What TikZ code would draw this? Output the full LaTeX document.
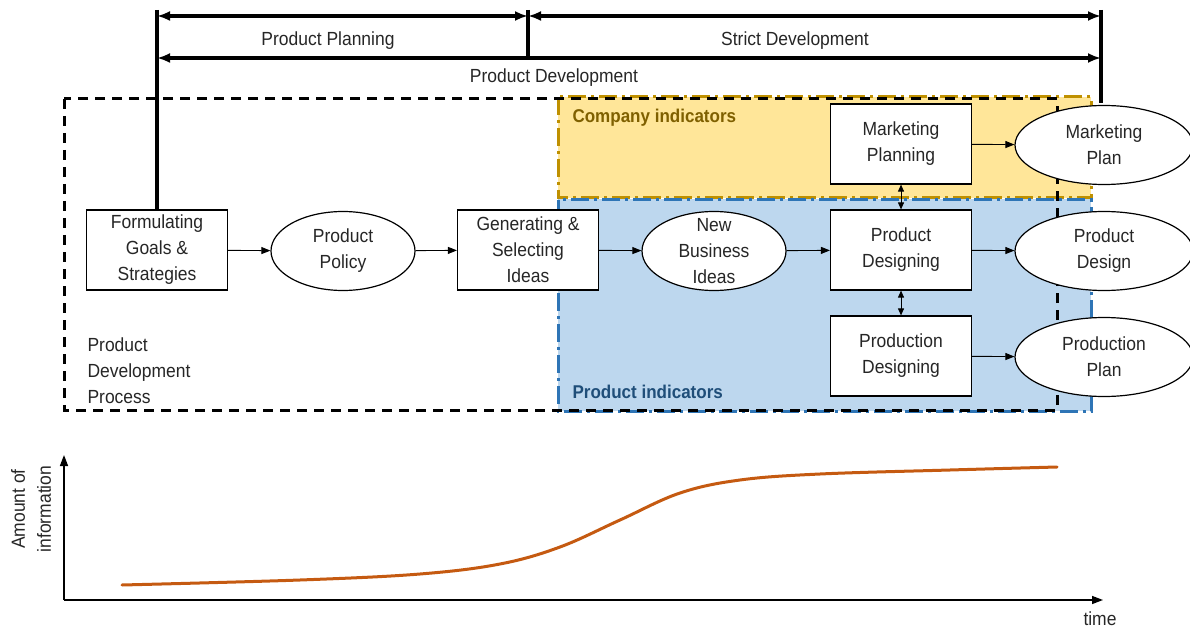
\documentclass[tikz,border=0pt]{standalone}
\usepackage{fontspec}
\setmainfont[FakeStretch=0.92]{Liberation Sans}
\usetikzlibrary{arrows.meta,shapes.geometric}
\definecolor{yfill}{HTML}{FFE699}
\definecolor{ydraw}{HTML}{BF9000}
\definecolor{ytext}{HTML}{7F6000}
\definecolor{bfill}{HTML}{BDD7EE}
\definecolor{bdraw}{HTML}{2E75B6}
\definecolor{btext}{HTML}{1F4E79}
\definecolor{curvecol}{HTML}{C55A11}
\begin{document}
\begin{tikzpicture}[x=1pt,y=-1pt,
  every node/.style={font=\fontsize{19}{26}\selectfont, text=black!85},
  box/.style={draw, line width=1.2pt, fill=white, minimum width=141pt, minimum height=80pt, align=center, inner sep=0pt},
  oval/.style={draw, ellipse, line width=1.2pt, fill=white, minimum width=144pt, minimum height=79pt, align=center, inner sep=0pt},
  conn/.style={line width=0.9pt, -{Triangle[length=9pt,width=7pt]}},
  dconn/.style={line width=0.9pt, {Triangle[length=7pt,width=6pt]}-{Triangle[length=7pt,width=6pt]}},
  spanarrow/.style={line width=3.2pt, {Latex[length=13pt,width=10pt]}-{Latex[length=13pt,width=10pt]}},
  bar/.style={line width=3.2pt},
  indborder/.style={line width=3pt, dash pattern=on 18pt off 5pt on 3pt off 5pt},
]
\useasboundingbox (0,0) rectangle (1190,628);

% indicator areas
\path[fill=yfill] (558,97) rectangle (1091,198);
\path[fill=bfill] (558,199) rectangle (1091,411);
\draw[indborder, draw=ydraw] (558,97) rectangle (1091,198);
\draw[indborder, draw=bdraw] (558,200) rectangle (1091,411);
\node[anchor=west, font=\fontsize{18.5}{26}\selectfont\bfseries, text=ytext] (cind) at (569,118) {Company indicators};
\node[anchor=west, font=\fontsize{18.5}{26}\selectfont\bfseries, text=btext] (pind) at (569,392) {Product indicators};

% process frame
\draw[line width=3pt, dash pattern=on 10pt off 7pt] (64,99) rectangle (1057,410);
\node[anchor=west, align=left] (pdp) at (84,371) {Product\\Development\\Process};

% nodes
\node[box] (form) at (157,250) {Formulating\\Goals \&\\Strategies};
\node[oval] (policy) at (343,251) {Product\\Policy};
\node[box] (gen) at (528,250) {Generating \&\\Selecting\\Ideas};
\node[oval] (nbi) at (714,251) {};
\node[align=center] (nbit) at (nbi.center) {New\\Business\\Ideas};
\node[box] (mkp) at (901,144) {Marketing\\Planning};
\node[box] (pd) at (901,250) {Product\\Designing};
\node[box] (prd) at (901,356) {Production\\Designing};
\node[oval, minimum width=178pt] (mplan) at (1104,145) {Marketing\\Plan};
\node[oval, minimum width=178pt] (pdes) at (1104,251) {Product\\Design};
\node[oval, minimum width=178pt] (pplan) at (1104,357) {Production\\Plan};

% connectors
\draw[conn] (form) -- (policy);
\draw[conn] (policy) -- (gen);
\draw[conn] (gen) -- (nbi);
\draw[conn] (nbi) -- (pd);
\draw[conn] (mkp) -- (mplan);
\draw[conn] (pd) -- (pdes);
\draw[conn] (prd) -- (pplan);
\draw[dconn] (mkp) -- (pd);
\draw[dconn] (pd) -- (prd);

% phase spans
\coordinate (ta) at (157,10);
\coordinate (tb) at (528,10);
\coordinate (tc) at (1101,10);
\coordinate (tb2) at (528,58);
\coordinate (tc2) at (1101,103);
\coordinate (r1a) at (157,16);
\coordinate (r1b) at (528,16);
\coordinate (r1c) at (1101,16);
\coordinate (r2a) at (157,58);
\coordinate (r2c) at (1101,58);
\draw[bar] (ta) -- (form.north);
\draw[bar] (tb) -- (tb2);
\draw[bar] (tc) -- (tc2);
\draw[spanarrow] (r1a) -- (r1b);
\draw[spanarrow] (r1b) -- (r1c);
\draw[spanarrow] (r2a) -- (r2c);
\node (lplan) at (328,41) {Product Planning};
\node (lstrict) at (795,41) {Strict Development};
\node (ldev) at (554,78) {Product Development};

% information graph
\coordinate (o) at (64,600);
\coordinate (ytop) at (64,455);
\coordinate (xend) at (1103,600);
\draw[line width=1.4pt, -{Triangle[length=11pt,width=8pt]}] (o) -- (ytop);
\draw[line width=1.4pt, -{Triangle[length=11pt,width=8pt]}] (o) -- (xend);
\node (time) at (1100,619) {time};
\node[rotate=90, align=center] (amount) at (31,509) {Amount of\\information};
\draw[curvecol, line width=3pt, line cap=round] plot[smooth, tension=0.6] coordinates {(122,585) (300,580) (420,574) (500,564) (560,547) (620,520) (680,493) (740,480) (820,474) (950,470) (1057,467)};
\end{tikzpicture}
\end{document}
